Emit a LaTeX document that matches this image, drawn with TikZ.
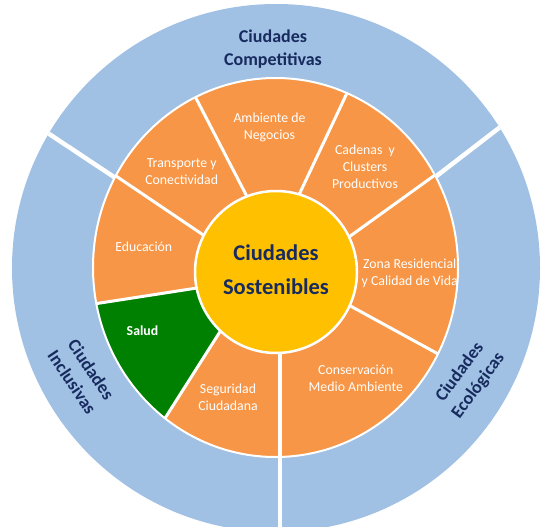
\documentclass[tikz,border=0pt]{standalone}
\usepackage{fontspec}
\setmainfont{Carlito}
\usetikzlibrary{calc}
\definecolor{ringblue}{HTML}{A0C0E4}
\definecolor{segorange}{HTML}{F79646}
\definecolor{coreyellow}{HTML}{FFC000}
\definecolor{saludgreen}{HTML}{008000}
\definecolor{navy}{HTML}{172B5E}
\tikzset{
  outerspoke/.style={white, line width=4.5pt},
  innerspoke/.style={white, line width=3pt},
  seglabel/.style={align=center, text=white, font=\fontsize{13.8}{16.8}\selectfont, inner sep=0pt},
  ringlabel/.style={align=center, text=navy, font=\fontsize{18}{23}\selectfont\bfseries, inner sep=0pt},
}
\begin{document}
\begin{tikzpicture}[x=1pt,y=-1pt]
\useasboundingbox (0,0) rectangle (541,527);
\clip (0,0) rectangle (541,527);
\fill[white] (0,0) rectangle (541,527);
% outer ring
\fill[ringblue] (276,268) circle[radius=264];
\begin{scope}
  \clip (276,268) circle[radius=264];
  \coordinate (ulA) at (50,134.5);   \coordinate (ulB) at (117,179);
  \coordinate (urA) at (501.7,125.9); \coordinate (urB) at (434.5,177.6);
  \draw[outerspoke] ($(ulB)!1.2!(ulA)$) -- ($(ulA)!1.6!(ulB)$);
  \draw[outerspoke] ($(urB)!1.2!(urA)$) -- ($(urA)!1.6!(urB)$);
\end{scope}
% orange ring
\fill[segorange] (275.5,267.5) ellipse[x radius=182.5, y radius=189.5];
\begin{scope}
  \clip (275.5,267.5) ellipse[x radius=182.5, y radius=189.5];
  % Salud sector
  \fill[saludgreen] (195,288.3) -- ($(195,288.3)!1.5!(98.3,303.3)$) -- (30,480) -- ($(220,331.7)!1.5!(165,418.3)$) -- (220,331.7) -- cycle;
  % spokes
  \coordinate (s1a) at (197.3,100.7); \coordinate (s1b) at (246.7,196);
  \coordinate (s2a) at (345,97.3);    \coordinate (s2b) at (300,192.7);
  \coordinate (s3a) at (435,175);     \coordinate (s3b) at (351.7,235);
  \coordinate (s4a) at (440,355);     \coordinate (s4b) at (351.7,306.7);
  \coordinate (s6a) at (165,418.3);   \coordinate (s6b) at (220,331.7);
  \coordinate (s7a) at (98.3,303.3);  \coordinate (s7b) at (195,288.3);
  \coordinate (s8a) at (80,151.7);    \coordinate (s8b) at (203.3,235);
  \foreach \s in {s1,s2,s3,s4,s6,s7,s8}{
    \draw[innerspoke] ($(\s b)!-0.2!(\s a)$) -- ($(\s b)!1.5!(\s a)$);
  }
\end{scope}
\draw[white, line width=2pt] (275.5,267.5) ellipse[x radius=182.5, y radius=189.5];
% bottom spoke
\draw[outerspoke, line width=4pt] (280,330) -- (280,530);
% core
\node[circle, fill=coreyellow, draw=white, line width=2.5pt, minimum size=162pt, inner sep=0pt] (core) at (276,272) {};
\node[align=center, text=navy, font=\fontsize{22.5}{34}\selectfont\bfseries] (coretext) at (276,270) {Ciudades\\Sostenibles};
% segment labels
\node[seglabel] (amb) at (269.5,127) {Ambiente de\\Negocios};
\node[seglabel] (tra) at (181.7,171.7) {Transporte y\\Conectividad};
\node[seglabel] (cad) at (365,166.7) {Cadenas\ \ y\\Clusters\\Productivos};
\node[seglabel] (edu) at (143.8,246.7) {Educación};
\node[seglabel] (zon) at (409.7,273.7) {Zona Residencial\\y Calidad de Vida};
\node[seglabel] (con) at (355.8,378.3) {Conservación\\Medio Ambiente};
\node[seglabel] (seg) at (228,397) {Seguridad\\Ciudadana};
\node[seglabel, font=\fontsize{13.8}{16.8}\selectfont\bfseries] (sal) at (142.5,330.7) {Salud};
% ring labels
\node[ringlabel] (comp) at (273,49.5) {Ciudades\\Competitivas};
\node[ringlabel, rotate=-56] (incl) at (81.7,375.8) {Ciudades\\Inclusivas};
\node[ringlabel, rotate=53.4] (eco) at (469.2,379) {Ciudades\\Ecológicas};
\end{tikzpicture}
\end{document}
